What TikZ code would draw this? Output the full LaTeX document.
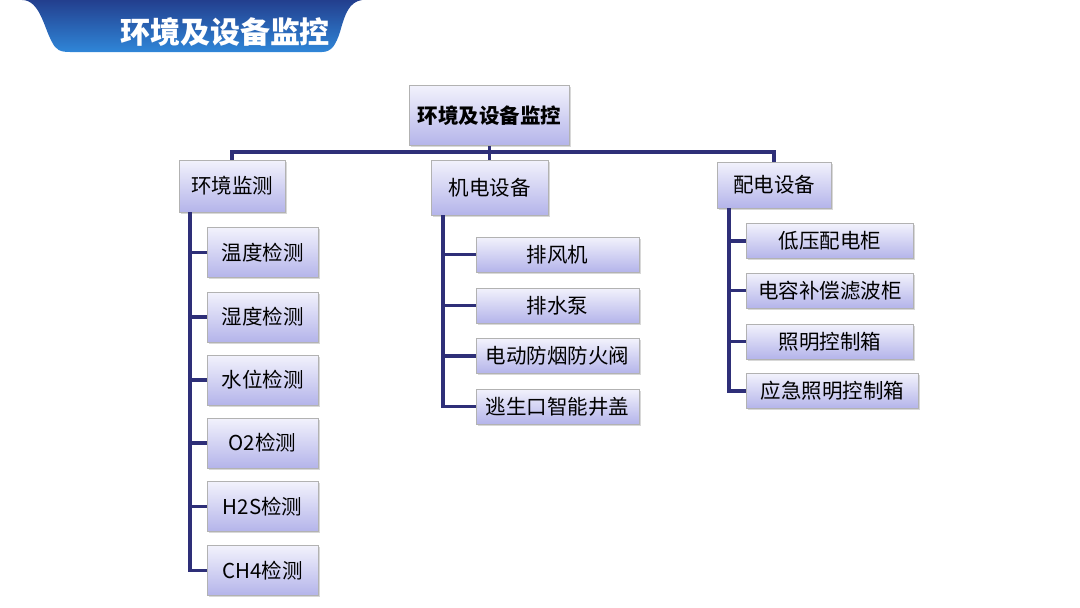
\documentclass[tikz,border=0pt]{standalone}
\usepackage{fontspec}
\setmainfont{Noto Sans CJK SC}
\usetikzlibrary{shadows}
\definecolor{linkblue}{HTML}{2E2F78}
\definecolor{boxtop}{HTML}{F2F2FC}
\definecolor{boxbot}{HTML}{B4B4EA}
\definecolor{bantop}{HTML}{233F8E}
\definecolor{banbot}{HTML}{2F86D8}
\tikzset{
  item/.style={draw=black!30, line width=0.6pt, top color=boxtop, bottom color=boxbot,
    drop shadow={shadow xshift=1.5pt, shadow yshift=-1.5pt, fill=black!30},
    inner sep=0pt, font=\fontsize{20.5}{22}\selectfont},
  link/.style={draw=linkblue, line width=3.2pt},
}
\begin{document}
\begin{tikzpicture}[x=1pt,y=-1pt]
  \useasboundingbox (0,0) rectangle (1080,608);
  % banner
  \shade[top color=bantop, bottom color=banbot] (22,0) .. controls (40,0) and (44,28) .. (52,42)
    .. controls (56,50) and (60,52) .. (70,52) -- (322,52) .. controls (332,52) and (336,44) .. (340,32)
    .. controls (345,14) and (349,2) .. (362,0) -- cycle;
  \node[text=white, font=\fontsize{30}{32}\selectfont\bfseries] (title) at (225,32) {环境及设备监控};
  % tree
  \node[item, minimum width=160, minimum height=60, font=\fontsize{20.5}{22}\selectfont\bfseries] (root) at (489.5,115.5) {环境及设备监控};
  \node[item, minimum width=106, minimum height=52] (env) at (232,186) {环境监测};
  \node[item, minimum width=117, minimum height=55] (mech) at (489.5,187.5) {机电设备};
  \node[item, minimum width=114, minimum height=46] (power) at (774,185) {配电设备};
  \coordinate (bar) at (489.5,152);
  \draw[link] (root.south) -- (mech.north);
  \draw[link] (env.north) |- (bar) -| (power.north);
  % left column
  \coordinate (envtrunk) at (190,212);
  \foreach \name/\y/\txt in {e1/252.5/温度检测, e2/317/湿度检测, e3/380/水位检测,
      e4/443/O2检测, e5/506.5/H2S检测, e6/570.5/CH4检测} {
    \draw[link] (envtrunk) |- (207,\y);
    \node[item, minimum width=111, minimum height=50] (\name) at (262.5,\y) {\txt};
  }
  % middle column
  \coordinate (mechtrunk) at (443,215);
  \foreach \name/\y/\txt in {m1/254.5/排风机, m2/305.5/排水泵, m3/356/电动防烟防火阀, m4/406.5/逃生口智能井盖} {
    \draw[link] (mechtrunk) |- (476,\y);
    \node[item, minimum width=163, minimum height=35] (\name) at (557.5,\y) {\txt};
  }
  % right column
  \coordinate (powertrunk) at (729,208);
  \foreach \name/\y/\w/\txt in {p1/241/167/低压配电柜, p2/290.5/167/电容补偿滤波柜, p3/341.5/167/照明控制箱, p4/391/172/应急照明控制箱} {
    \draw[link] (powertrunk) |- (746,\y);
    \node[item, minimum width=\w, minimum height=35, anchor=west] (\name) at (746,\y) {\txt};
  }
\end{tikzpicture}
\end{document}
